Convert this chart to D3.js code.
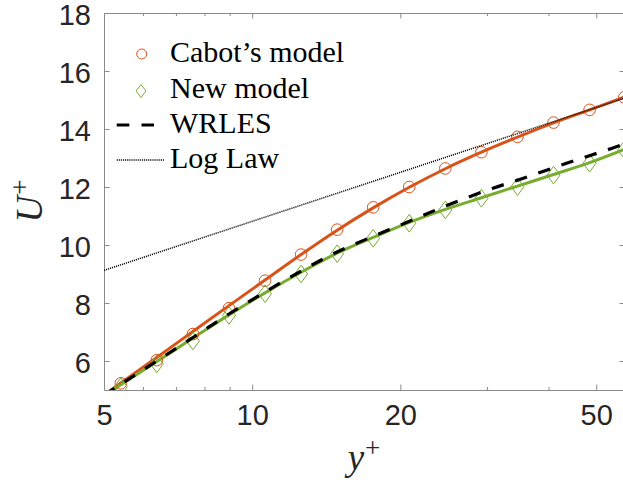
<!DOCTYPE html>
<html>
<head>
<meta charset="utf-8">
<script src="https://cdn.jsdelivr.net/npm/d3@7"></script>
<style>
  body { margin: 0; background: #fff; }
  svg { display: block; }
</style>
</head>
<body>
<div id="chart"></div>
<script>
const width = 623;
const height = 484;

// Marker positions (y+), shared by both models
const yPlusMarkers = [5.41, 6.40, 7.58, 8.97, 10.62, 12.57, 14.88, 17.61, 20.85, 24.68, 29.22, 34.59, 40.94, 48.47, 57.0];
const cabotMarkers = [5.23, 6.03, 6.93, 7.82, 8.77, 9.67, 10.53, 11.30, 12.00, 12.64, 13.20, 13.73, 14.22, 14.66, 15.09];
const newMarkers = [5.11, 5.90, 6.69, 7.57, 8.32, 9.00, 9.70, 10.23, 10.75, 11.21, 11.61, 12.01, 12.41, 12.82, 13.28];

// Solid model profiles
const yPlusLine = [5.0, 5.41, 6.40, 7.58, 8.97, 10.62, 12.57, 14.88, 17.61, 20.85, 24.68, 29.22, 34.59, 40.94, 48.47, 57.0];
const cabotLine = [4.83, 5.24, 6.12, 7.02, 7.91, 8.79, 9.67, 10.51, 11.28, 11.99, 12.63, 13.20, 13.72, 14.21, 14.66, 15.10];
const newLine = [4.81, 5.18, 5.98, 6.79, 7.59, 8.35, 9.06, 9.72, 10.26, 10.78, 11.23, 11.63, 12.03, 12.43, 12.84, 13.30];

// WRLES reference
const yPlusWrles = [5.0, 5.41, 6.40, 7.58, 8.97, 10.62, 12.57, 14.16, 17.61, 19.95, 25.0, 30.85, 34.95, 43.5, 53.7, 57.0];
const wrles = [4.82, 5.20, 6.00, 6.81, 7.62, 8.38, 9.10, 9.58, 10.30, 10.68, 11.38, 11.96, 12.26, 12.82, 13.33, 13.48];

// Log law end points
const yPlusLog = [5.0, 57.2];
const logLaw = [9.125, 15.07];

const xTicks = [5, 10, 20, 50];
const xMinorTicks = [6, 7, 8, 9, 30, 40];
const yTicks = [6, 8, 10, 12, 14, 16, 18];

const legendItems = ["Cabot\u2019s model", "New model", "WRLES", "Log Law"];

const orange = "#D95319";
const green = "#77AC30";
const axisColor = "#8a8a8a";
const textColor = "#262626";

const m = { left: 104, right: 625, top: 13, bottom: 390 };

const x = d3.scaleLog().domain([5, 57.2]).range([m.left, m.right]);
const y = d3.scaleLinear().domain([5, 18]).range([m.bottom, m.top]);

const svg = d3.select("#chart").append("svg")
    .attr("width", width)
    .attr("height", height);

svg.append("defs").append("clipPath")
    .attr("id", "plot-clip")
    .append("rect")
    .attr("x", m.left).attr("y", m.top)
    .attr("width", m.right - m.left).attr("height", m.bottom - m.top);

// Axes: bottom/top/left/right with inward ticks
const tickFont = "'Liberation Sans', Arial, sans-serif";

const xAxis = svg.append("g").attr("transform", `translate(0,${m.bottom})`)
    .call(d3.axisBottom(x).tickValues(xTicks).tickFormat(d3.format("d")).tickSizeInner(-5.5).tickSizeOuter(0).tickPadding(14));
xAxis.select(".domain").attr("stroke", axisColor);
xAxis.selectAll(".tick line").attr("stroke", axisColor);
xAxis.selectAll(".tick text").attr("fill", textColor).style("font-family", tickFont).style("font-size", "29px");

const xMinor = svg.append("g").attr("transform", `translate(0,${m.bottom})`)
    .call(d3.axisBottom(x).tickValues(xMinorTicks).tickFormat("").tickSizeInner(-3).tickSizeOuter(0));
xMinor.select(".domain").remove();
xMinor.selectAll(".tick line").attr("stroke", axisColor);

const xTop = svg.append("g").attr("transform", `translate(0,${m.top})`)
    .call(d3.axisTop(x).tickValues(xTicks).tickFormat("").tickSizeInner(-5.5).tickSizeOuter(0));
xTop.select(".domain").attr("stroke", axisColor);
xTop.selectAll(".tick line").attr("stroke", axisColor);

const xTopMinor = svg.append("g").attr("transform", `translate(0,${m.top})`)
    .call(d3.axisTop(x).tickValues(xMinorTicks).tickFormat("").tickSizeInner(-3).tickSizeOuter(0));
xTopMinor.select(".domain").remove();
xTopMinor.selectAll(".tick line").attr("stroke", axisColor);

const yAxis = svg.append("g").attr("transform", `translate(${m.left},0)`)
    .call(d3.axisLeft(y).tickValues(yTicks).tickSizeInner(-5.5).tickSizeOuter(0).tickPadding(13));
yAxis.select(".domain").attr("stroke", axisColor);
yAxis.selectAll(".tick line").attr("stroke", axisColor);
yAxis.selectAll(".tick text").attr("fill", textColor).attr("dy", "0.38em").style("font-family", tickFont).style("font-size", "29px");

const yRight = svg.append("g").attr("transform", `translate(${m.right},0)`)
    .call(d3.axisRight(y).tickValues(yTicks).tickFormat("").tickSizeInner(-5.5).tickSizeOuter(0));
yRight.select(".domain").attr("stroke", axisColor);
yRight.selectAll(".tick line").attr("stroke", axisColor);

// Data layers
const plot = svg.append("g").attr("clip-path", "url(#plot-clip)");

const line = d3.line().x(d => x(d[0])).y(d => y(d[1])).curve(d3.curveMonotoneX);

plot.append("path")
    .datum(d3.zip(yPlusLine, cabotLine))
    .attr("fill", "none").attr("stroke", orange).attr("stroke-width", 3)
    .attr("d", line);

plot.append("path")
    .datum(d3.zip(yPlusLine, newLine))
    .attr("fill", "none").attr("stroke", green).attr("stroke-width", 3)
    .attr("d", line);

plot.selectAll("circle.cabot")
    .data(d3.zip(yPlusMarkers, cabotMarkers))
    .enter().append("circle")
    .attr("class", "cabot")
    .attr("cx", d => x(d[0])).attr("cy", d => y(d[1])).attr("r", 5.8)
    .attr("fill", "none").attr("stroke", orange).attr("stroke-width", 1);

const diamond = (cx, cy, w, h) => `M${cx},${cy - h}L${cx + w},${cy}L${cx},${cy + h}L${cx - w},${cy}Z`;

plot.selectAll("path.newm")
    .data(d3.zip(yPlusMarkers, newMarkers))
    .enter().append("path")
    .attr("class", "newm")
    .attr("d", d => diamond(x(d[0]), y(d[1]), 6.5, 8.8))
    .attr("fill", "none").attr("stroke", green).attr("stroke-width", 1);

plot.append("path")
    .datum(d3.zip(yPlusWrles, wrles))
    .attr("fill", "none").attr("stroke", "#000").attr("stroke-width", 3.2)
    .attr("stroke-dasharray", "12.5,12")
    .attr("d", line);

plot.append("path")
    .datum(d3.zip(yPlusLog, logLaw))
    .attr("fill", "none").attr("stroke", "#000").attr("stroke-width", 1.5)
    .attr("stroke-dasharray", "1.1,1")
    .attr("d", d3.line().x(d => x(d[0])).y(d => y(d[1])));

// Legend (no box)
const legend = svg.append("g");
const rowY = [54, 90, 125, 160];
const serif = "'Liberation Serif', 'Times New Roman', serif";

legend.append("circle").attr("cx", 141.7).attr("cy", rowY[0]).attr("r", 5)
    .attr("fill", "none").attr("stroke", orange).attr("stroke-width", 1);
legend.append("path").attr("d", diamond(141, rowY[1] + 1, 5, 6.5))
    .attr("fill", "none").attr("stroke", green).attr("stroke-width", 1);
legend.append("line").attr("x1", 116.7).attr("x2", 154).attr("y1", rowY[2]).attr("y2", rowY[2])
    .attr("stroke", "#000").attr("stroke-width", 3.2).attr("stroke-dasharray", "12.6,12.2");
legend.append("line").attr("x1", 116.7).attr("x2", 165).attr("y1", rowY[3]).attr("y2", rowY[3])
    .attr("stroke", "#000").attr("stroke-width", 1.5).attr("stroke-dasharray", "1.1,1");

legend.selectAll("text")
    .data(legendItems)
    .enter().append("text")
    .attr("x", 170)
    .attr("y", (d, i) => rowY[i] + 8)
    .attr("fill", "#000")
    .style("font-family", serif)
    .style("font-size", "30px")
    .text(d => d);

// Axis labels
svg.append("text")
    .attr("transform", `translate(42,201) rotate(-90)`)
    .attr("text-anchor", "middle")
    .attr("fill", textColor)
    .style("font-family", serif)
    .style("font-size", "37px")
    .html('<tspan font-style="italic">U</tspan><tspan dy="-13" dx="1" font-size="27px">+</tspan>');

svg.append("text")
    .attr("x", 364)
    .attr("y", 470)
    .attr("text-anchor", "middle")
    .attr("fill", textColor)
    .style("font-family", serif)
    .style("font-size", "37px")
    .html('<tspan font-style="italic">y</tspan><tspan dy="-13" dx="1" font-size="27px">+</tspan>');
</script>
</body>
</html>
